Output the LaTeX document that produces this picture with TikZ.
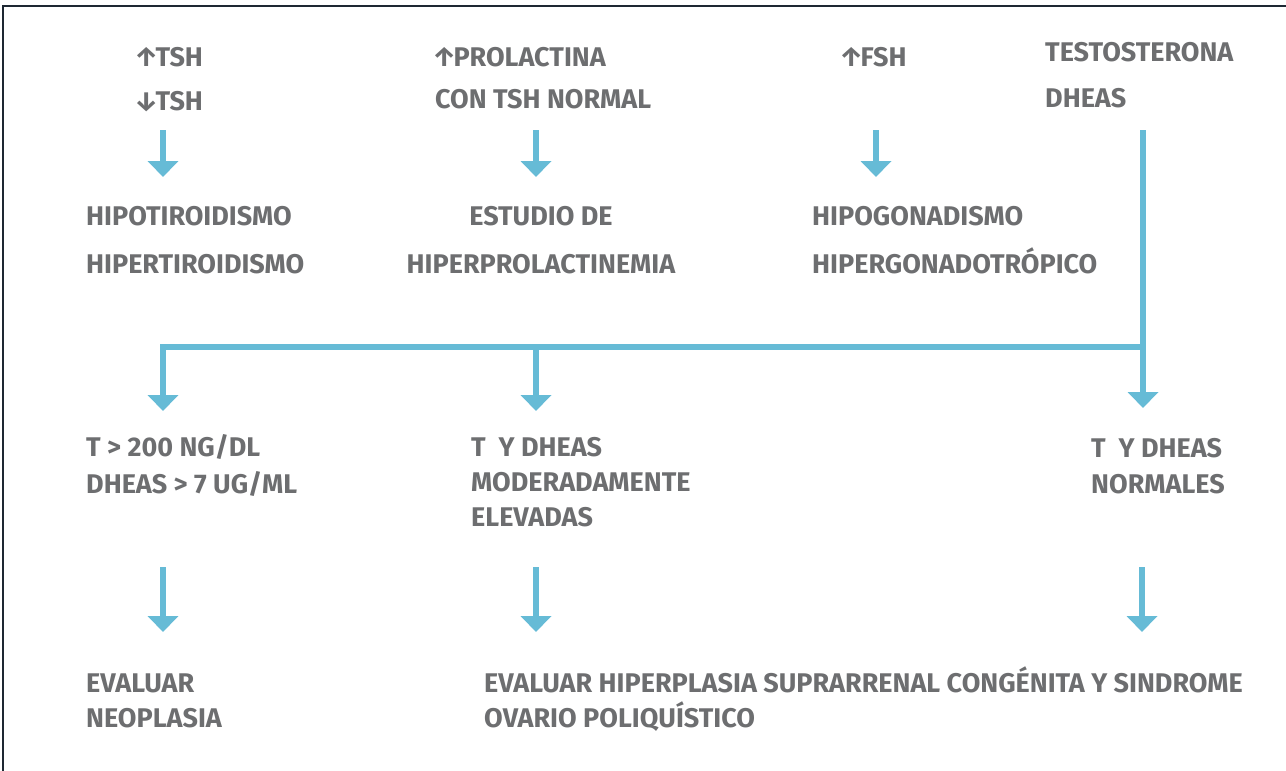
\documentclass[tikz,border=0pt]{standalone}
\usepackage{fontspec}
\setmainfont{Fira Sans}
\usetikzlibrary{arrows.meta}
\definecolor{txt}{HTML}{6D6E70}
\definecolor{blu}{HTML}{66BBD6}
\definecolor{brd}{HTML}{1E2833}
\newcommand\myup{\kern-3pt↑\kern-3pt}
\newcommand\mydown{\kern-3pt↓\kern-3pt}
\tikzset{
  lbl/.style={anchor=base west, align=left, text=txt, inner sep=0pt,
    font=\bfseries\fontsize{27}{44}\selectfont},
  lblc/.style={lbl, align=center, anchor=base},
  lead/.style={font=\bfseries\fontsize{27}{#1}\selectfont},
  arr/.style={draw=blu, line width=5.5pt, -{Triangle[width=30pt,length=16pt]}},
  ln/.style={draw=blu, line width=5.5pt},
  frame/.style={draw=brd, line width=2pt},
}
\begin{document}
\begin{tikzpicture}[x=1pt,y=-1pt]
\useasboundingbox (0,0) rectangle (1286,771);
\draw[frame] (3,775) -- (3,6) -- (1290,6);
% row 1 (anchors at the baseline of the last line)
\node[lbl, lead=44] (tsh) at (137,110) {\myup TSH\\\mydown TSH};
\node[lbl, lead=42] (prl) at (435,108) {\myup PROLACTINA\\CON TSH NORMAL};
\node[lbl] (fsh) at (842,66) {\myup FSH};
\node[lbl, lead=46] (tes) at (1045,107) {TESTOSTERONA\\DHEAS};
% row 2
\node[lbl, lead=48] (hipo) at (86,273) {HIPOTIROIDISMO\\HIPERTIROIDISMO};
\node[lblc, lead=48] (est) at (541,273) {ESTUDIO DE\\HIPERPROLACTINEMIA};
\node[lbl, lead=48] (hgon) at (812,273) {HIPOGONADISMO\\HIPERGONADOTRÓPICO};
% row 3
\node[lbl, lead=37] (t200) at (86,493) {T > 200 NG/DL\\DHEAS > 7 UG/ML};
\node[lbl, lead=35] (tmod) at (471,526) {T\ \ Y DHEAS\\MODERADAMENTE\\ELEVADAS};
\node[lbl, lead=36] (tnor) at (1091,493) {T\ \ Y DHEAS\\NORMALES};
% row 4
\node[lbl, lead=35] (evn) at (86,727) {EVALUAR\\NEOPLASIA};
\node[lbl, lead=35] (evh) at (484,727) {EVALUAR HIPERPLASIA SUPRARRENAL CONGÉNITA Y SINDROME\\OVARIO POLIQUÍSTICO};
% connector points
\coordinate (a1s) at (163,130); \coordinate (a1e) at (163,177);
\coordinate (a2s) at (536,130); \coordinate (a2e) at (536,177);
\coordinate (a3s) at (876,130); \coordinate (a3e) at (876,177);
\coordinate (a4s) at (1143,130); \coordinate (j) at (1143,347);
\coordinate (m2) at (536,347);
\coordinate (b1e) at (163,411); \coordinate (b2e) at (536,411); \coordinate (b3e) at (1143,408);
\coordinate (c1s) at (163,567); \coordinate (c1e) at (163,632);
\coordinate (c2s) at (536,567); \coordinate (c2e) at (536,632);
\coordinate (c3s) at (1142,567); \coordinate (c3e) at (1142,632);
% connectors
\draw[arr] (a1s) -- (a1e);
\draw[arr] (a2s) -- (a2e);
\draw[arr] (a3s) -- (a3e);
\draw[ln] (a4s) -- (j);
\draw[arr] (j) -| (b1e);
\draw[arr] (m2) -- (b2e);
\draw[arr] (j) -- (b3e);
\draw[arr] (c1s) -- (c1e);
\draw[arr] (c2s) -- (c2e);
\draw[arr] (c3s) -- (c3e);
\end{tikzpicture}
\end{document}
